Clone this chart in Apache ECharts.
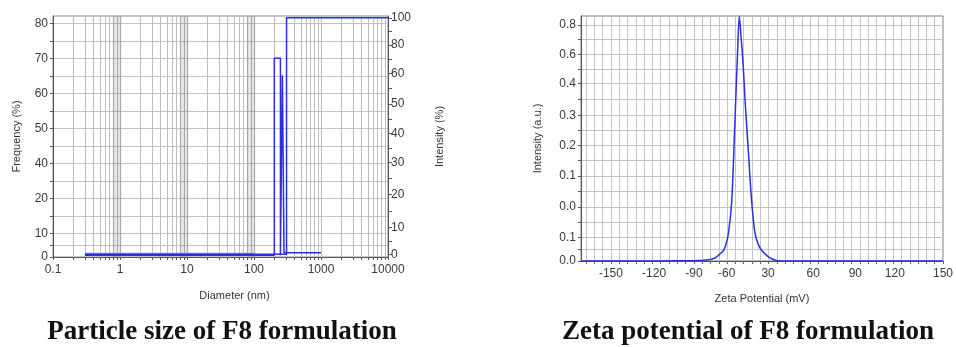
<!DOCTYPE html>
<html>
<head>
<meta charset="utf-8">
<script src="https://cdn.jsdelivr.net/npm/echarts@6/dist/echarts.min.js"></script>
<style>
html,body{margin:0;padding:0;background:#fff;}
#c{width:956px;height:347px;}
</style>
</head>
<body>
<div id="c"></div>
<script>
// ---------- Particle size (left panel) ----------
// Frequency (%) curve, left axis: diameter (nm) / value
const sizeFreqD = [0.3, 201, 201, 248, 248, 265, 265, 272, 280, 280, 1000];
const sizeFreqV = [0.6, 0.6, 70, 70, 0.6, 0.6, 64, 36, 36, 1.5, 1.5];
// Cumulative intensity (%), right axis
const sizeCumD = [0.3, 306, 306, 10000];
const sizeCumV = [0, 0, 100, 100];
// Faint baseline trace, right axis
const sizeFaintD = [0.3, 100];
const sizeFaintV = [0.4, 0.4];
// Tick labels as printed on the reference (positions in axis units)
const freqTickPos  = [0, 8.26, 20.6, 32.95, 45.3, 57.65, 70, 82.35];
const freqTickText = ['0', '10', '20', '40', '50', '60', '70', '80'];
const intTickPos   = [0, 11.4, 25.2, 38.8, 51.0, 63.6, 76.4, 88.6, 100];
const intTickText  = ['0', '10', '20', '30', '40', '50', '60', '80', '100'];
const sizeDecades  = [0.1, 1, 10, 100, 1000, 10000];

// ---------- Zeta potential (right panel) ----------
const zetaX = [-177, -120, -90, -70, -62, -58.9, -55, -52.7, -49, -46.7, -43.8, -40.8, -37.8, -35.5, -34, -32.2, -30.4, -28.8, -25.9, -22.9, -19.9, -17, -14, -8, -0.6, 10, 40, 90, 150];
const zetaY = [0, 0, 0.001, 0.002, 0.004, 0.006, 0.012, 0.02, 0.032, 0.048, 0.094, 0.206, 0.488, 0.714, 0.83, 0.75, 0.658, 0.545, 0.376, 0.206, 0.095, 0.058, 0.037, 0.015, 0.002, 0, 0, 0, 0];
const zetaXTickPos  = [-150, -111, -75, -45.3, -8, 32.8, 70.8, 106.5, 150];
const zetaXTickText = ['-150', '-120', '-90', '-60', '30', '60', '90', '120', '150'];
const zetaYTickPos  = [0, 0.0796, 0.1838, 0.2884, 0.392, 0.4936, 0.6016, 0.7008, 0.8];
const zetaYTickText = ['0.0', '0.1', '0.0', '0.1', '0.2', '0.3', '0.4', '0.6', '0.8'];

// ---------- helpers ----------
function pairs(xs, ys) { return xs.map((x, i) => [x, ys[i]]); }
function withMids(pos) {
  const out = [];
  for (let i = 0; i < pos.length; i++) {
    out.push(pos[i]);
    if (i < pos.length - 1) out.push((pos[i] + pos[i + 1]) / 2);
  }
  return out;
}
function textFor(pos, text) {
  return function (v) {
    let best = 0;
    for (let i = 1; i < pos.length; i++) if (Math.abs(pos[i] - v) < Math.abs(pos[best] - v)) best = i;
    return text[best];
  };
}
const sizeGrid = [];
for (let d = 0; d < sizeDecades.length; d++) {
  for (let k = 1; k <= 9; k++) {
    const v = +(sizeDecades[d] * k).toPrecision(6);
    if (v <= 10000) sizeGrid.push(v);
  }
}
const zetaGrid = [];
for (let v = -172.5; v <= 150.01; v += 7.5) zetaGrid.push(+v.toFixed(2));

const FONT = 'Liberation Sans, Arial, sans-serif';
const BLUE = '#2b2fe0';
const labelStyle = { fontSize: 12, color: '#3a3a3a', fontFamily: FONT };
const nameStyle = { fontSize: 11, color: '#333', fontFamily: FONT };

const chart = echarts.init(document.getElementById('c'));
chart.setOption({
  animation: false,
  backgroundColor: '#fff',
  grid: [
    { left: 53, top: 16, width: 335, height: 241, show: true, borderColor: '#8c8c8c', borderWidth: 1 },
    { left: 581, top: 16, width: 365, height: 245, show: true, borderColor: '#7c7c7c', borderWidth: 1 }
  ],
  xAxis: [
    {
      type: 'log', logBase: 10, gridIndex: 0, min: 0.1, max: 10000,
      name: 'Diameter (nm)', nameLocation: 'middle', nameGap: 33,
      nameTextStyle: Object.assign({ padding: [0, 0, 0, 28] }, nameStyle),
      axisLine: { show: true, onZero: false, lineStyle: { color: '#555' } },
      axisTick: { show: true, customValues: sizeGrid, length: 3, lineStyle: { color: '#555' } },
      axisLabel: Object.assign({ margin: 7, formatter: v => String(+v.toPrecision(6)) }, labelStyle),
      splitLine: { show: true, lineStyle: { color: '#bdbdbd', width: 1 } }
    },
    {
      type: 'value', gridIndex: 1, min: -177, max: 150,
      name: 'Zeta Potential (mV)', nameLocation: 'middle', nameGap: 32, nameTextStyle: nameStyle,
      axisLine: { show: true, onZero: false, lineStyle: { color: '#555' } },
      axisTick: { show: true, customValues: zetaGrid, length: 3, lineStyle: { color: '#666' } },
      axisLabel: Object.assign({ margin: 7, customValues: zetaXTickPos, formatter: textFor(zetaXTickPos, zetaXTickText) }, labelStyle),
      splitLine: { show: true, lineStyle: { color: '#c4c4c4', width: 1 } }
    }
  ],
  yAxis: [
    {
      type: 'value', gridIndex: 0, min: 0, max: 84.9, position: 'left',
      name: 'Frequency (%)', nameLocation: 'middle', nameGap: 31,
      nameTextStyle: nameStyle,
      axisLine: { show: true, onZero: false, lineStyle: { color: '#555' } },
      axisTick: { show: true, customValues: withMids(freqTickPos), length: 3, lineStyle: { color: '#555' } },
      axisLabel: Object.assign({ margin: 5, customValues: freqTickPos, formatter: textFor(freqTickPos, freqTickText) }, labelStyle),
      splitLine: { show: true, lineStyle: { color: '#c2c2c2', width: 1 } }
    },
    {
      type: 'value', gridIndex: 0, min: -1.14, max: 100.76, position: 'right',
      name: 'Intensity (%)', nameLocation: 'middle', nameGap: 46, nameRotate: 90,
      nameTextStyle: nameStyle,
      axisLine: { show: true, onZero: false, lineStyle: { color: '#555' } },
      axisTick: { show: true, customValues: withMids(intTickPos), length: 4, lineStyle: { color: '#555' } },
      axisLabel: Object.assign({ margin: 3, customValues: intTickPos, formatter: textFor(intTickPos, intTickText) }, labelStyle),
      splitLine: { show: false }
    },
    {
      type: 'value', gridIndex: 1, min: 0, max: 0.8305,
      name: 'Intensity (a.u.)', nameLocation: 'middle', nameGap: 38, nameTextStyle: nameStyle,
      axisLine: { show: true, onZero: false, lineStyle: { color: '#555' } },
      axisTick: { show: true, customValues: withMids(zetaYTickPos), length: 3, lineStyle: { color: '#555' } },
      axisLabel: Object.assign({ margin: 5, customValues: zetaYTickPos, formatter: textFor(zetaYTickPos, zetaYTickText) }, labelStyle),
      splitLine: { show: true, lineStyle: { color: '#c2c2c2', width: 1 } }
    }
  ],
  series: [
    {
      name: 'Intensity faint', type: 'line', xAxisIndex: 0, yAxisIndex: 1,
      data: pairs(sizeFaintD, sizeFaintV), showSymbol: false, silent: true,
      lineStyle: { color: '#8f93ee', width: 1.2 },
      markArea: {
        silent: true, itemStyle: { color: 'rgba(0,0,0,0.1)' },
        data: [[{ xAxis: 0.78 }, { xAxis: 1.05 }], [{ xAxis: 7.8 }, { xAxis: 10.5 }], [{ xAxis: 78 }, { xAxis: 105 }]]
      }
    },
    {
      name: 'Frequency', type: 'line', xAxisIndex: 0, yAxisIndex: 0,
      data: pairs(sizeFreqD, sizeFreqV), showSymbol: false,
      lineStyle: { color: BLUE, width: 1.5 }
    },
    {
      name: 'Intensity', type: 'line', xAxisIndex: 0, yAxisIndex: 1,
      data: pairs(sizeCumD, sizeCumV), showSymbol: false,
      lineStyle: { color: BLUE, width: 1.5 }
    },
    {
      name: 'Zeta', type: 'line', xAxisIndex: 1, yAxisIndex: 2,
      data: pairs(zetaX, zetaY), showSymbol: false, smooth: 0.3,
      lineStyle: { color: BLUE, width: 1.5 }
    }
  ],
  graphic: [
    { type: 'text', x: 222, y: 332, style: { text: 'Particle size of F8 formulation', font: 'bold 27px "Liberation Serif", serif', fill: '#111', align: 'center', verticalAlign: 'middle' } },
    { type: 'text', x: 748, y: 332, style: { text: 'Zeta potential of F8 formulation', font: 'bold 27px "Liberation Serif", serif', fill: '#111', align: 'center', verticalAlign: 'middle' } }
  ]
});
</script>
</body>
</html>
